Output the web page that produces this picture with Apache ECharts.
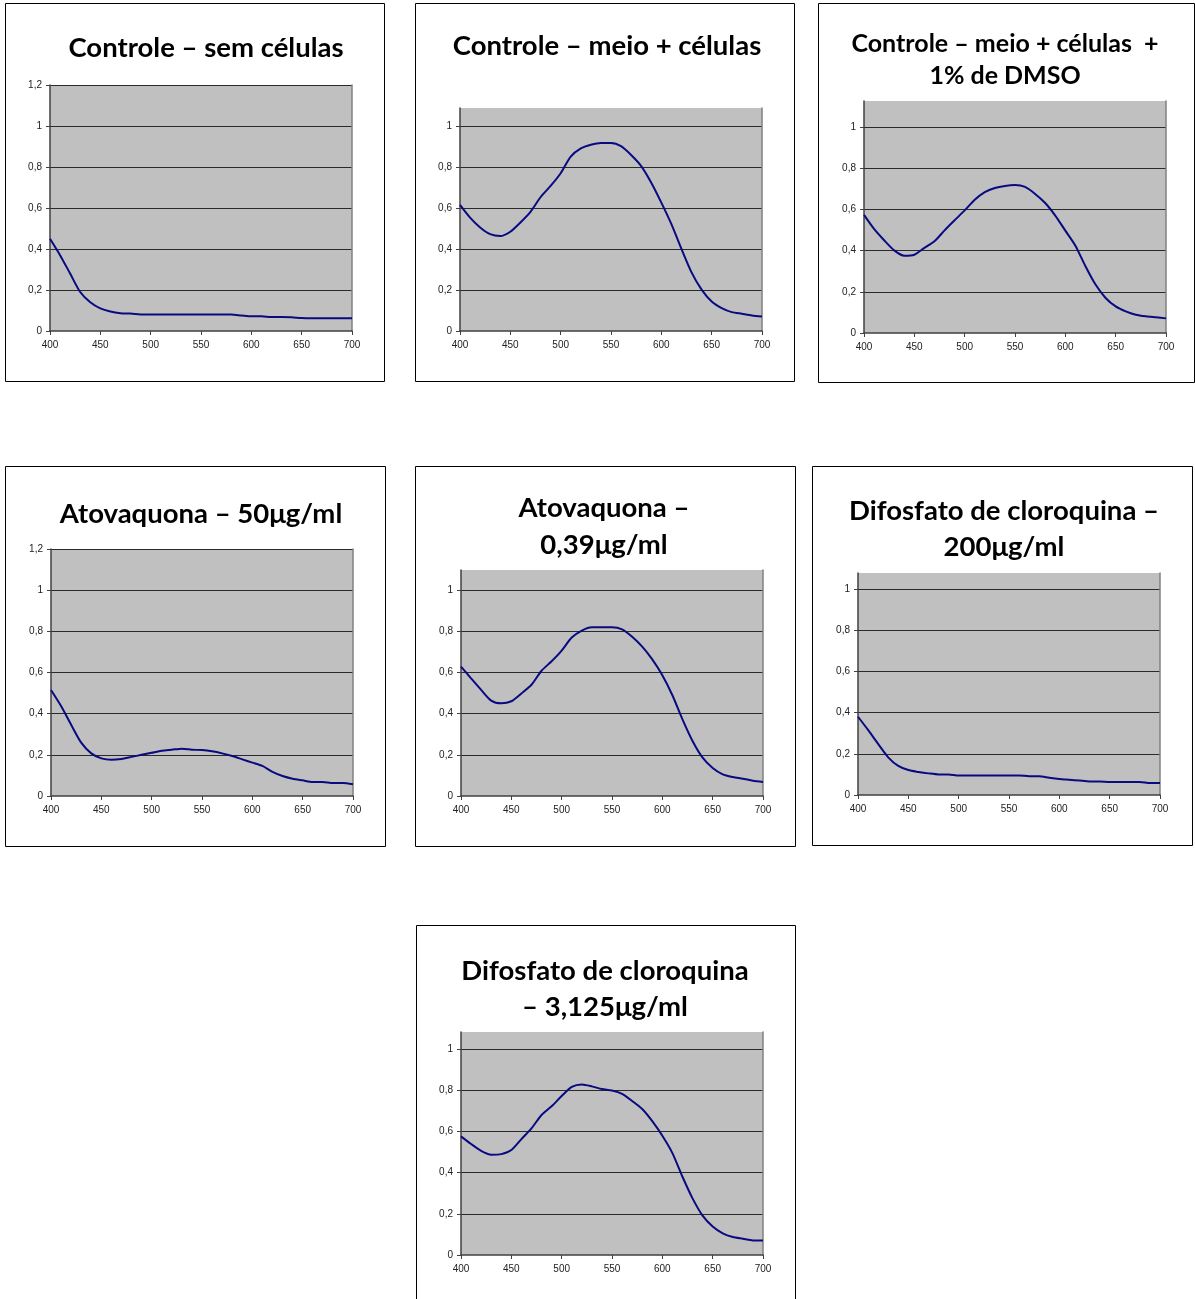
<!DOCTYPE html>
<html>
<head>
<meta charset="utf-8">
<style>
  html, body { margin: 0; padding: 0; background: #fff; }
  #chart { width: 1195px; height: 1299px; }
</style>
<script src="https://cdn.jsdelivr.net/npm/echarts@6/dist/echarts.min.js"></script>
</head>
<body>
<div id="chart"></div>
<script>
// Wavelengths (nm), one reading every 10 nm
const wavelengths = [400,410,420,430,440,450,460,470,480,490,500,510,520,530,540,550,560,570,580,590,600,610,620,630,640,650,660,670,680,690,700];
const xTicks = [400, 450, 500, 550, 600, 650, 700];

// Absorbance readings for each condition
const semCelulas = [0.45,0.37,0.28,0.19,0.14,0.11,0.095,0.087,0.085,0.081,0.08,0.08,0.08,0.08,0.08,0.08,0.08,0.08,0.08,0.076,0.072,0.072,0.068,0.068,0.067,0.063,0.062,0.062,0.062,0.062,0.062];
const meioCelulas = [0.615,0.553,0.505,0.472,0.463,0.484,0.529,0.581,0.652,0.707,0.769,0.85,0.89,0.908,0.917,0.917,0.901,0.858,0.804,0.723,0.626,0.521,0.40,0.286,0.202,0.144,0.112,0.092,0.084,0.076,0.071];
const meioCelulasDmso = [0.573,0.505,0.45,0.401,0.375,0.38,0.413,0.445,0.498,0.547,0.595,0.647,0.684,0.704,0.714,0.718,0.709,0.675,0.631,0.57,0.497,0.424,0.324,0.235,0.17,0.129,0.105,0.089,0.081,0.076,0.071];
const atovaquona50 = [0.515,0.437,0.346,0.259,0.207,0.183,0.176,0.18,0.19,0.2,0.21,0.22,0.225,0.23,0.225,0.223,0.217,0.207,0.194,0.178,0.162,0.146,0.117,0.097,0.084,0.076,0.068,0.068,0.063,0.063,0.057];
const atovaquona039 = [0.628,0.571,0.515,0.463,0.45,0.46,0.498,0.54,0.608,0.654,0.706,0.769,0.803,0.819,0.819,0.819,0.809,0.773,0.725,0.663,0.586,0.489,0.372,0.267,0.186,0.136,0.105,0.092,0.084,0.074,0.068];
const cloroquina200 = [0.38,0.316,0.248,0.183,0.141,0.121,0.112,0.105,0.1,0.1,0.095,0.095,0.095,0.095,0.095,0.095,0.095,0.091,0.091,0.084,0.078,0.074,0.07,0.066,0.066,0.063,0.063,0.063,0.063,0.058,0.058];
const cloroquina3125 = [0.576,0.539,0.506,0.487,0.49,0.51,0.563,0.615,0.68,0.722,0.772,0.816,0.828,0.819,0.806,0.799,0.783,0.748,0.709,0.65,0.579,0.495,0.38,0.275,0.191,0.138,0.105,0.087,0.079,0.071,0.071];

// Panel titles (one string per line)
const titles = [
  ['Controle – sem células'],
  ['Controle – meio + células'],
  ['Controle – meio + células  +', '1% de DMSO'],
  ['Atovaquona – 50μg/ml'],
  ['Atovaquona –', '0,39μg/ml'],
  ['Difosfato de cloroquina –', '200μg/ml'],
  ['Difosfato de cloroquina', '– 3,125μg/ml']
];
const seriesValues = [semCelulas, meioCelulas, meioCelulasDmso, atovaquona50, atovaquona039, cloroquina200, cloroquina3125];
// Top of each value axis
const yMax = [1.2, 1.087, 1.126, 1.2, 1.097, 1.078, 1.083];

// Panel layout: frame box, plot area, title centre / first line row / line spacing / font size
const layout = [
  { box: [5, 3, 379, 378],   plot: [50, 85, 302, 246],   tx: 206,  ty: 48,  lh: 0,  fs: 27.5 },
  { box: [415, 3, 379, 378], plot: [460, 108, 302, 223], tx: 607,  ty: 46,  lh: 0,  fs: 27.5 },
  { box: [818, 3, 376, 379], plot: [864, 101, 302, 232], tx: 1005, ty: 44,  lh: 32, fs: 25 },
  { box: [5, 466, 380, 380], plot: [51, 549, 302, 247],  tx: 201,  ty: 514, lh: 0,  fs: 27.5 },
  { box: [415, 466, 380, 380], plot: [461, 570, 302, 226], tx: 604, ty: 508, lh: 37, fs: 27.5 },
  { box: [812, 466, 380, 379], plot: [858, 573, 302, 222], tx: 1004, ty: 511, lh: 36, fs: 27.5 },
  { box: [416, 925, 379, 390], plot: [461, 1032, 302, 223], tx: 605, ty: 971, lh: 36, fs: 27.5 }
];

const TITLE_FONT = 'Lato';
const LABEL_FONT = 'Liberation Sans';
const commaFmt = v => String(Math.round(v * 10) / 10).replace('.', ',');

const grids = [], xAxes = [], yAxes = [], series = [], titleComps = [], graphics = [];

layout.forEach((p, i) => {
  const [gl, gt, gw, gh] = p.plot;
  const isNice = Math.abs(yMax[i] / 0.2 - Math.round(yMax[i] / 0.2)) < 1e-6;

  graphics.push({
    type: 'rect', silent: true, z: -10,
    shape: { x: p.box[0] + 0.5, y: p.box[1] + 0.5, width: p.box[2], height: p.box[3] },
    style: { fill: '#fff', stroke: '#000', lineWidth: 1 }
  });

  titles[i].forEach((line, k) => {
    titleComps.push({
      text: line,
      left: p.tx, top: p.ty + k * p.lh,
      textAlign: 'center', textVerticalAlign: 'middle',
      padding: 0,
      textStyle: { fontFamily: TITLE_FONT, fontWeight: 'bold', fontSize: p.fs, color: '#000' }
    });
  });

  grids.push({
    left: gl, top: gt, width: gw, height: gh,
    show: true, backgroundColor: '#c0c0c0', borderWidth: 0
  });

  xAxes.push({
    type: 'value', gridIndex: i, min: 400, max: 700, interval: 50,
    axisLine: { show: true, lineStyle: { color: '#404040', width: 1.5 } },
    axisTick: { show: true, length: 4, lineStyle: { color: '#404040' } },
    axisLabel: { fontFamily: LABEL_FONT, fontSize: 10, color: '#222', margin: 9 },
    splitLine: { show: false }
  });
  // Right-hand frame of the plot area
  xAxes.push({
    type: 'value', gridIndex: i, min: 400, max: 700, position: 'top',
    axisLine: { show: false }, axisTick: { show: false }, axisLabel: { show: false },
    splitLine: { show: false }
  });

  yAxes.push({
    type: 'value', gridIndex: i, min: 0, max: yMax[i], interval: 0.2,
    axisLine: { show: true, lineStyle: { color: '#404040', width: 1.5 } },
    axisTick: { show: true, length: 4, lineStyle: { color: '#404040' } },
    axisLabel: {
      fontFamily: LABEL_FONT, fontSize: 10, color: '#222', margin: 8,
      showMaxLabel: isNice,
      formatter: v => commaFmt(v)
    },
    splitLine: { show: true, showMinLine: false, showMaxLine: isNice, lineStyle: { color: '#2a2a2a', width: 1 } }
  });
  yAxes.push({
    type: 'value', gridIndex: i, min: 0, max: yMax[i], position: 'right',
    axisLine: { show: true, lineStyle: { color: '#808080', width: 1.5 } },
    axisTick: { show: false }, axisLabel: { show: false }, splitLine: { show: false }
  });

  series.push({
    type: 'line',
    xAxisIndex: i * 2, yAxisIndex: i * 2,
    data: wavelengths.map((w, k) => [w, seriesValues[i][k]]),
    showSymbol: false, smooth: 0.25,
    lineStyle: { color: '#0a0a80', width: 2 },
    silent: true, animation: false
  });
});

const chart = echarts.init(document.getElementById('chart'), null, { renderer: 'canvas' });
chart.setOption({
  animation: false,
  backgroundColor: '#fff',
  title: titleComps,
  grid: grids,
  xAxis: xAxes,
  yAxis: yAxes,
  series: series,
  graphic: graphics
});
</script>
</body>
</html>
